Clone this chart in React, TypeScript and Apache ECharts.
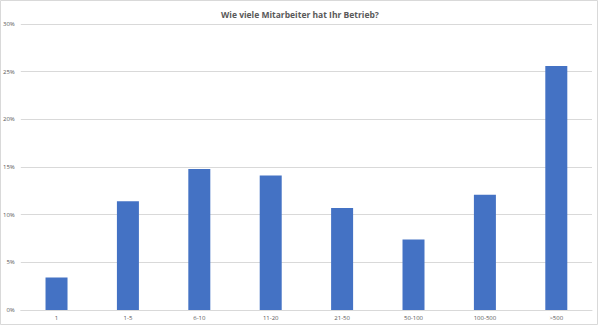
import React, { useEffect, useRef } from "react";
import * as echarts from "echarts";

const categories = ["1", "1-5", "6-10", "11-20", "21-50", "50-100", "100-500", ">500"];
const shares = [3.4, 11.4, 14.8, 14.1, 10.7, 7.4, 12.1, 25.6];
const titleText = "Wie viele Mitarbeiter hat Ihr Betrieb?";

export default function App() {
  const ref = useRef<HTMLDivElement>(null);
  useEffect(() => {
    document.body.style.margin = "0";
    const chart = echarts.init(ref.current!, null, { renderer: "svg" });
    chart.setOption({
      animation: false,
      backgroundColor: "#ffffff",
      title: {
        text: titleText,
        left: "center",
        top: 5,
        textStyle: {
          fontFamily: "Open Sans",
          fontSize: 8.5,
          fontWeight: "bold",
          color: "#595959",
        },
      },
      graphic: [
        {
          type: "rect",
          shape: { x: 0.5, y: 0.5, width: 597, height: 324 },
          style: { fill: "none", stroke: "#d9d9d9", lineWidth: 1 },
          silent: true,
        },
      ],
      grid: { left: 20, right: 8, top: 24, bottom: 16 },
      xAxis: {
        type: "category",
        data: categories,
        axisLine: { show: true, lineStyle: { color: "#d9d9d9" } },
        axisTick: { show: false },
        axisLabel: {
          fontFamily: "Open Sans",
          fontSize: 6,
          color: "#595959",
          margin: 5,
        },
      },
      yAxis: {
        type: "value",
        min: 0,
        max: 30,
        interval: 5,
        axisLine: { show: false },
        axisTick: { show: false },
        splitLine: { lineStyle: { color: "#d9d9d9" } },
        axisLabel: {
          formatter: "{value}%",
          fontFamily: "Open Sans",
          fontSize: 6,
          color: "#595959",
          margin: 6,
        },
      },
      series: [
        {
          type: "bar",
          data: shares,
          barWidth: 22,
          itemStyle: { color: "#4472C4" },
        },
      ],
    });
    return () => chart.dispose();
  }, []);
  return <div ref={ref} style={{ width: 600, height: 326 }} />;
}
